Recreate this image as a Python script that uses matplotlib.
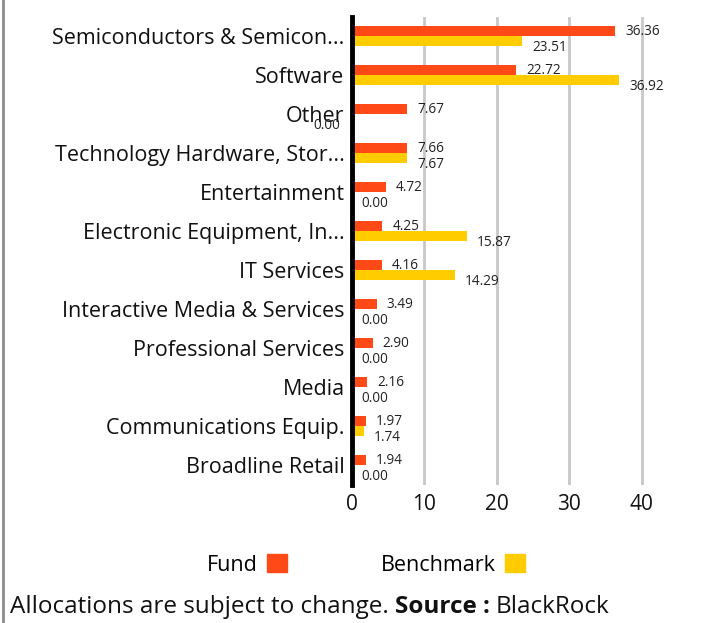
#!/usr/bin/env python3
"""
Sector allocation of the fund against its benchmark, as horizontal bars.
"""
import matplotlib as mpl
mpl.use('agg')
import matplotlib.pyplot as plt
from matplotlib.lines import Line2D
from matplotlib.patches import Patch
import numpy as np

categories = [
	'Semiconductors & Semicon...',
	'Software',
	'Other',
	'Technology Hardware, Stor...',
	'Entertainment',
	'Electronic Equipment, In...',
	'IT Services',
	'Interactive Media & Services',
	'Professional Services',
	'Media',
	'Communications Equip.',
	'Broadline Retail',
]
fund = [36.36, 22.72, 7.67, 7.66, 4.72, 4.25, 4.16, 3.49, 2.90, 2.16, 1.97, 1.94]
benchmark = [23.51, 36.92, 0.00, 7.67, 0.00, 15.87, 14.29, 0.00, 0.00, 0.00, 1.74, 0.00]
xticks = [0, 10, 20, 30, 40]

FUND_COLOR = '#FF4A17'
BENCH_COLOR = '#FFCC00'
FONT = 'Open Sans'

W, H = 718, 623


def px(x, y):
	"""pixel position (from top left) -> figure fraction"""
	return x / W, 1 - y / H


def main():
	plt.rcParams['font.family'] = [FONT, 'DejaVu Sans']
	fig = plt.figure(figsize=(W / 100, H / 100), dpi=100)
	left, top = px(351.5, 16.5)
	right, bottom = px(351.5 + 48 * 7.25, 484.5)
	ax = fig.add_axes([left, bottom, right - left, top - bottom])

	y = np.arange(len(categories))
	h = 0.255
	ax.barh(y - h / 2, fund, height=h, color=FUND_COLOR, zorder=3)
	ax.barh(y + h / 2, benchmark, height=h, color=BENCH_COLOR, zorder=3)

	# value labels, a bit up for fund and a bit down for benchmark
	for i, (f, b) in enumerate(zip(fund, benchmark)):
		ax.annotate('%.2f' % f, (f, i - h / 2), xytext=(10, 0), textcoords='offset pixels',
			ha='left', va='center', fontsize=9.8, color='#222222')
		# the chart tool put the missing "Other" benchmark label on the left
		dx = -38 if categories[i] == 'Other' else 10
		ax.annotate('%.2f' % b, (b, i + h / 2), xytext=(dx, -7), textcoords='offset pixels',
			ha='left', va='center', fontsize=9.8, color='#222222', zorder=5)

	ax.set_xlim(0, 48)
	ax.set_ylim(len(categories) - 0.5, -0.5)
	ax.set_yticks(y)
	ax.set_yticklabels(categories, fontsize=15.5, color='#111111')
	ax.set_xticks(xticks)
	ax.set_xticklabels([str(t) for t in xticks], fontsize=15, color='#111111')
	ax.tick_params(axis='y', length=0, pad=5)
	ax.tick_params(axis='x', length=0, pad=7)
	ax.grid(axis='x', color='#C8C8C8', linewidth=2, zorder=0)
	for side in ('top', 'right', 'bottom'):
		ax.spines[side].set_visible(False)
	ax.spines['left'].set_linewidth(3.5)
	ax.spines['left'].set_color('black')
	ax.spines['left'].set_zorder(4)

	handles = [Patch(color=FUND_COLOR), Patch(color=BENCH_COLOR)]
	fig.legend(handles, ['Fund', 'Benchmark'], loc='center', bbox_to_anchor=px(366, 565),
		ncol=2, frameon=False, markerfirst=False, fontsize=15.5,
		handlelength=0.93, handleheight=0.85, handletextpad=0.4, columnspacing=4.4)

	# footer with a bold part in the middle
	renderer = fig.canvas.get_renderer()
	x0, yf = px(10, 607)
	parts = [('Allocations are subject to change.', 'normal'), ('Source :', 'bold'), ('BlackRock', 'normal')]
	space = 6 / W
	for text, weight in parts:
		t = fig.text(x0, yf, text, fontsize=17.5, fontweight=weight, va='center', ha='left', color='#111111')
		bb = t.get_window_extent(renderer)
		x0 += bb.width / W + space

	fig.add_artist(Line2D([2.5 / W, 2.5 / W], [0, 1], color='#8C8C8C', linewidth=2))
	fig.savefig('out.png', dpi=100)


if __name__ == '__main__':
	main()
